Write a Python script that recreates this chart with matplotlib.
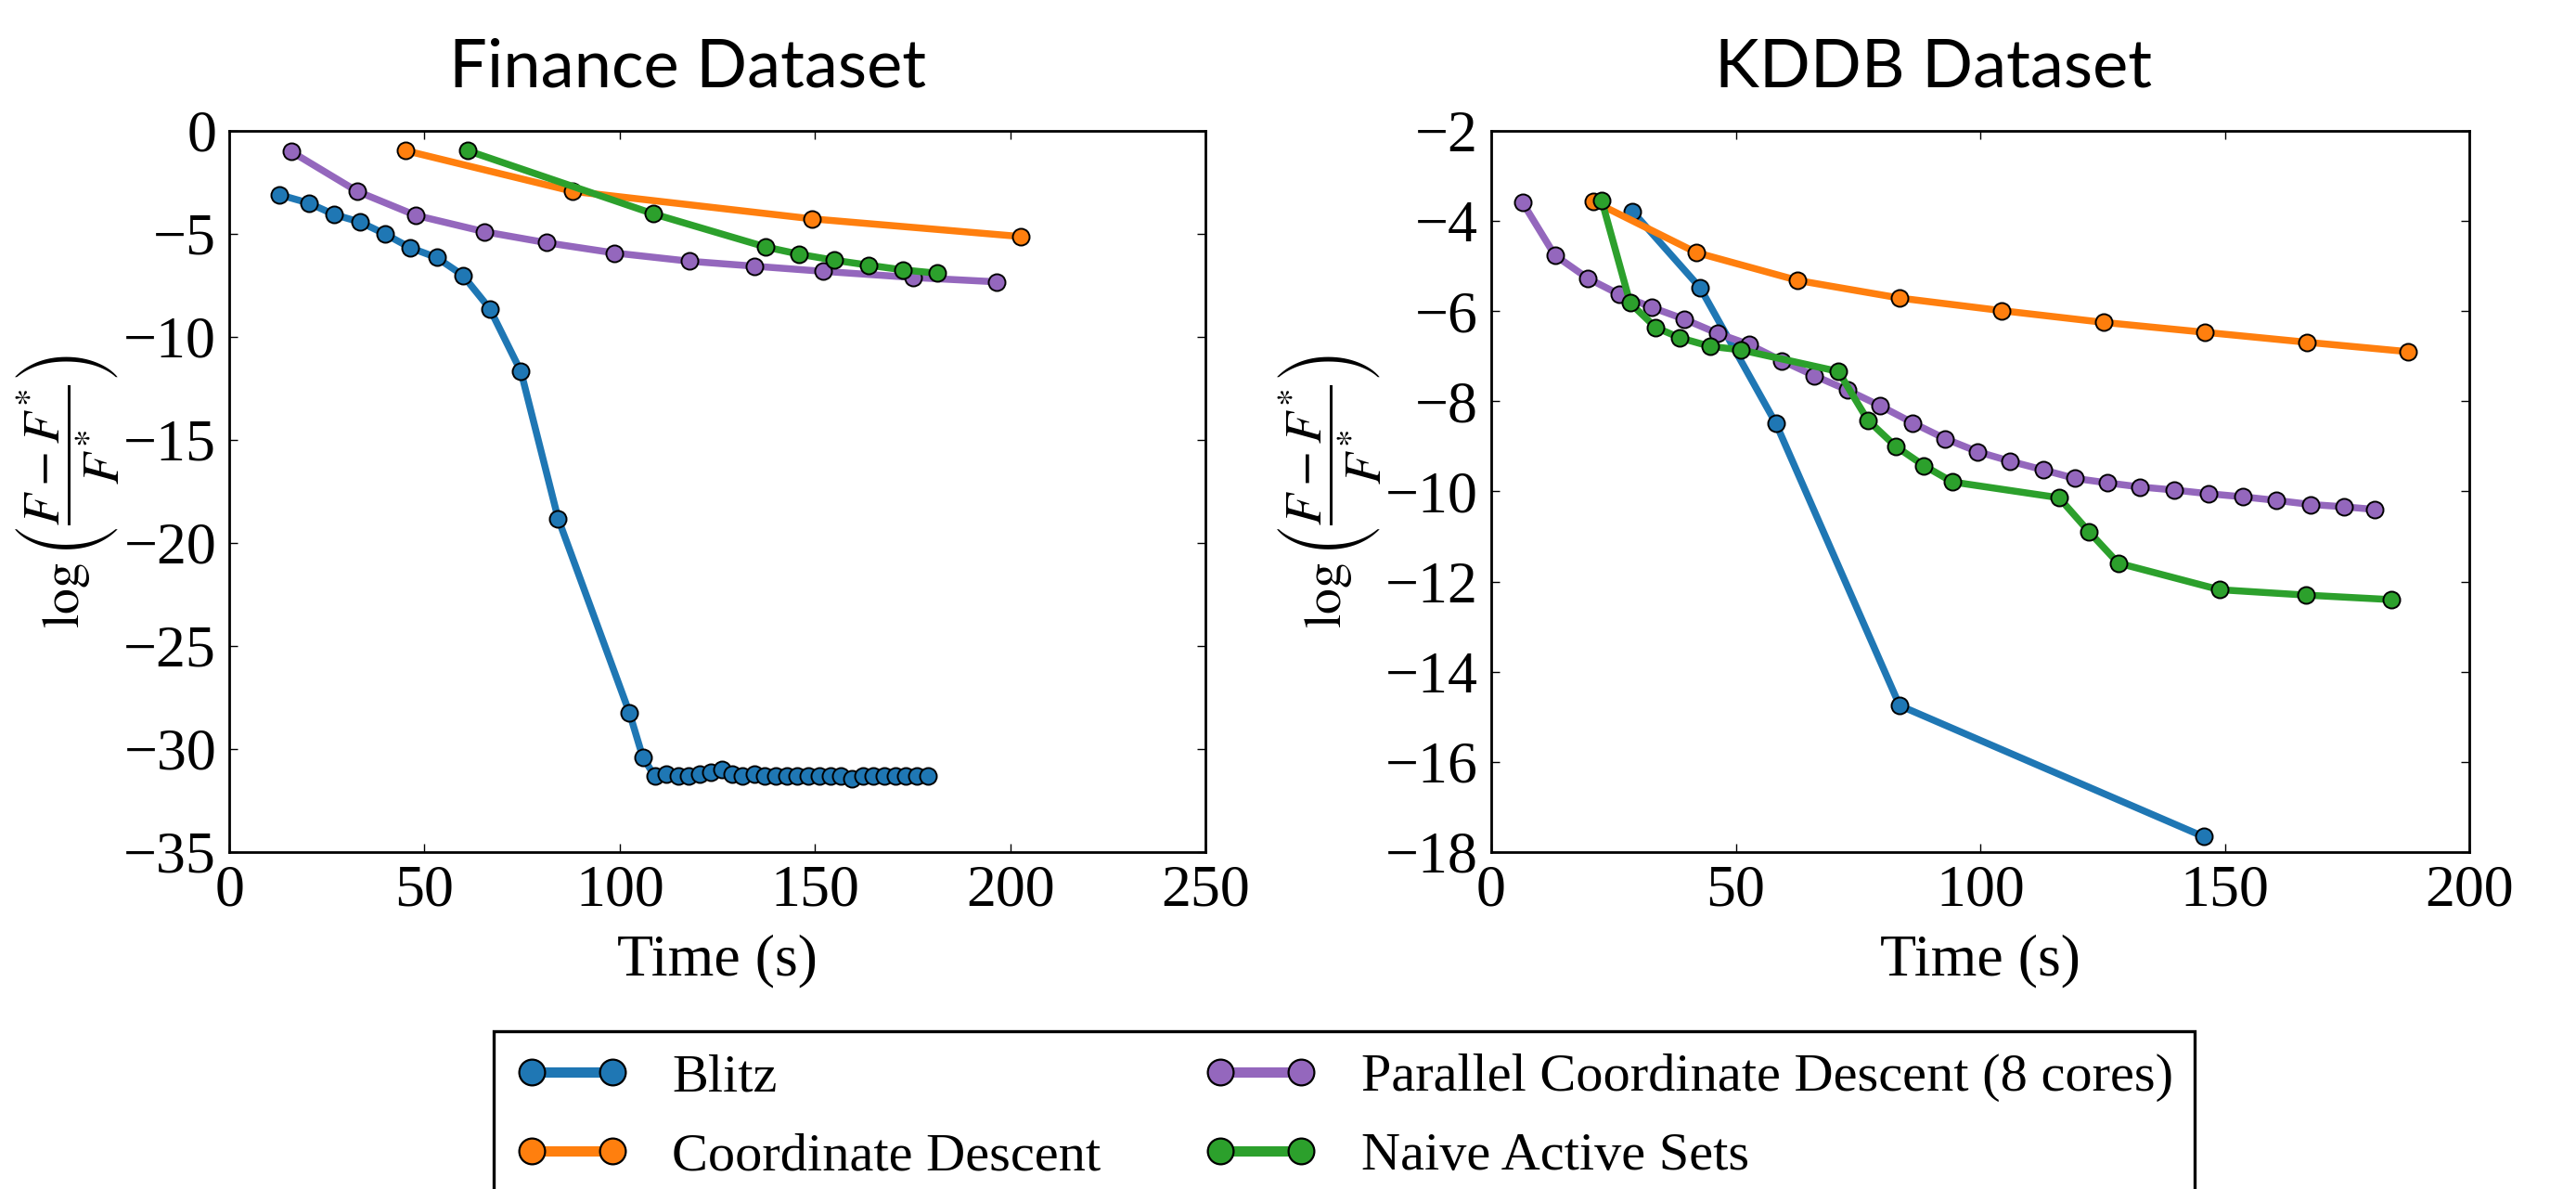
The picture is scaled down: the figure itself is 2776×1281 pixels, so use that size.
import matplotlib
matplotlib.use("Agg")
import matplotlib.pyplot as plt
from matplotlib.lines import Line2D

# Finance dataset: time (s) and log((F - F*) / F*)
fin_blitz_t = [12.8, 20.4, 26.8, 33.5, 39.8, 46.3, 53.1, 59.8, 66.7, 74.7, 84.2,
               102.5, 105.9, 109.0, 112.0, 114.9, 117.6, 120.5, 123.4, 126.1, 128.8,
               131.5, 134.4, 137.1, 139.9, 142.7, 145.5, 148.3, 151.0, 153.9, 156.6,
               159.5, 162.2, 165.0, 167.8, 170.6, 173.3, 176.1, 179.0]
fin_blitz_v = [-3.10, -3.51, -4.06, -4.43, -5.00, -5.67, -6.15, -7.01, -8.63, -11.69, -18.81,
               -28.26, -30.40, -31.33, -31.24, -31.33, -31.33, -31.24, -31.15, -30.98, -31.24,
               -31.33, -31.21, -31.33, -31.33, -31.33, -31.33, -31.33, -31.33, -31.33, -31.33,
               -31.45, -31.33, -31.33, -31.33, -31.33, -31.33, -31.33, -31.33]
fin_cd_t = [45.1, 88.0, 149.1, 202.6]
fin_cd_v = [-0.96, -2.94, -4.27, -5.13]
fin_pcd_t = [15.8, 32.8, 47.7, 65.4, 81.2, 98.7, 117.9, 134.5, 152.1, 175.2, 196.5]
fin_pcd_v = [-1.00, -2.94, -4.10, -4.90, -5.43, -5.93, -6.33, -6.57, -6.82, -7.12, -7.33]
fin_nas_t = [61.0, 108.6, 137.4, 146.0, 154.9, 163.7, 172.5, 181.2]
fin_nas_v = [-0.96, -4.03, -5.64, -5.99, -6.28, -6.52, -6.75, -6.91]

# KDDB dataset
kdd_blitz_t = [28.9, 42.7, 58.2, 83.5, 145.7]
kdd_blitz_v = [-3.79, -5.48, -8.49, -14.75, -17.66]
kdd_cd_t = [20.8, 41.9, 62.7, 83.5, 104.4, 125.2, 145.9, 166.7, 187.5]
kdd_cd_v = [-3.56, -4.70, -5.32, -5.71, -5.99, -6.25, -6.47, -6.69, -6.90]
kdd_pcd_t = [6.4, 13.0, 19.7, 26.2, 32.9, 39.5, 46.2, 52.7, 59.4, 66.0, 72.8, 79.5, 86.2,
             92.8, 99.5, 106.1, 112.8, 119.3, 126.0, 132.6, 139.7, 146.6, 153.7, 160.6,
             167.6, 174.3, 180.7]
kdd_pcd_v = [-3.59, -4.76, -5.27, -5.63, -5.92, -6.18, -6.49, -6.74, -7.10, -7.43, -7.75,
             -8.10, -8.48, -8.83, -9.12, -9.33, -9.52, -9.71, -9.81, -9.90, -9.97, -10.05,
             -10.12, -10.20, -10.29, -10.34, -10.40]
kdd_nas_t = [22.6, 28.4, 33.6, 38.5, 44.7, 51.0, 71.0, 77.0, 82.7, 88.5, 94.3, 116.1,
             122.2, 128.2, 148.9, 166.6, 184.0]
kdd_nas_v = [-3.55, -5.82, -6.36, -6.59, -6.78, -6.86, -7.34, -8.42, -9.00, -9.43, -9.79,
             -10.14, -10.89, -11.59, -12.18, -12.30, -12.40]

labels = ["Blitz", "Coordinate Descent", "Parallel Coordinate Descent (8 cores)",
          "Naive Active Sets"]
colors = ["#1f77b4", "#ff7f0e", "#9467bd", "#2ca02c"]

plt.rcParams["font.family"] = ["Liberation Serif", "DejaVu Serif"]
plt.rcParams["mathtext.fontset"] = "stix"

fig = plt.figure(figsize=(13.88, 6.405), dpi=200)
ax1 = fig.add_axes([0.0890, 0.2834, 0.3790, 0.6066])
ax2 = fig.add_axes([0.5789, 0.2834, 0.3797, 0.6066])

finance = [(fin_blitz_t, fin_blitz_v), (fin_cd_t, fin_cd_v),
           (fin_pcd_t, fin_pcd_v), (fin_nas_t, fin_nas_v)]
kddb = [(kdd_blitz_t, kdd_blitz_v), (kdd_cd_t, kdd_cd_v),
        (kdd_pcd_t, kdd_pcd_v), (kdd_nas_t, kdd_nas_v)]

for ax, series in [(ax1, finance), (ax2, kddb)]:
    for (t, v), c in zip(series, colors):
        ax.plot(t, v, "-o", color=c, lw=2.7, markersize=6.5,
                markerfacecolor=c, markeredgecolor="black", markeredgewidth=0.7)
    ax.tick_params(direction="in", top=True, right=True, length=3.2, width=0.5,
                   labelsize=23, pad=5)
    for sp in ax.spines.values():
        sp.set_linewidth(1.0)
    ax.set_xlabel("Time (s)", fontsize=23, labelpad=6)
    ax.set_ylabel(r"$\log\left(\dfrac{F-F^{*}}{F^{*}}\right)$", fontsize=20)
    ax.yaxis.set_label_coords(-0.11, 0.5)

ax1.set_xlim(0, 250)
ax1.set_ylim(-35, 0)
ax1.set_xticks(range(0, 251, 50))
ax1.set_yticks(range(-35, 1, 5))
ax2.set_xlim(0, 200)
ax2.set_ylim(-18, -2)
ax2.set_xticks(range(0, 201, 50))
ax2.set_yticks(range(-18, -1, 2))

fig.text(0.2669, 0.9274, "Finance Dataset", family="Lato", fontsize=26,
         ha="center", va="baseline")
fig.text(0.7507, 0.9274, "KDDB Dataset", family="Lato", fontsize=26,
         ha="center", va="baseline")

handles = [Line2D([], [], color=c, lw=4.0, marker="o", markersize=10,
                  markerfacecolor=c, markeredgecolor="black", markeredgewidth=0.8)
           for c in colors]
leg = fig.legend(handles, labels, loc="upper left",
                 bbox_to_anchor=(532 / 2776, 1 - 1111 / 1281), ncol=2, fontsize=21,
                 numpoints=2, handlelength=2.1, handletextpad=0.8,
                 columnspacing=1.9, borderpad=0.4, labelspacing=0.55,
                 borderaxespad=0, fancybox=False, framealpha=1)
leg.get_frame().set_edgecolor("black")
leg.get_frame().set_linewidth(1.2)

fig.savefig("out.png", dpi=200)
